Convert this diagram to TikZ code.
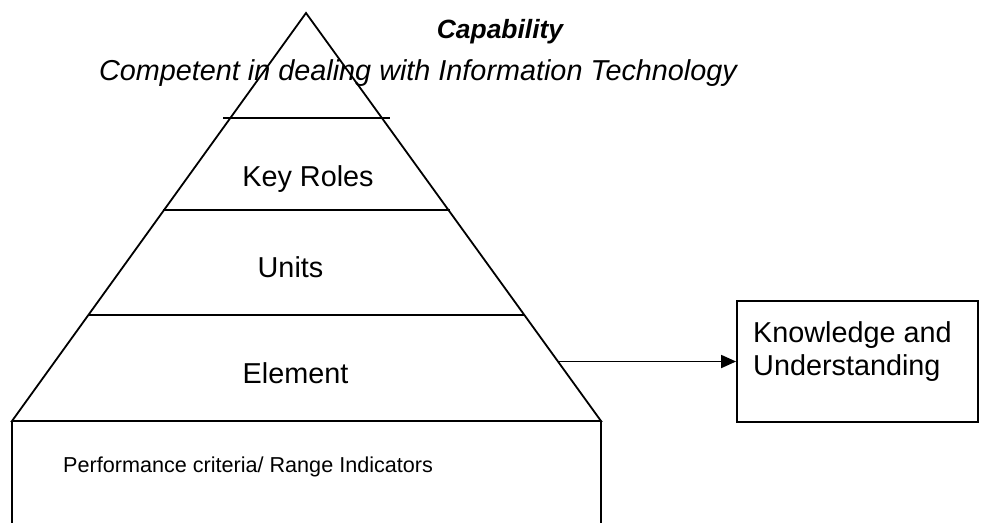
\documentclass[tikz,border=0pt]{standalone}
\usepackage{fontspec}
\setmainfont{Liberation Sans}
\usetikzlibrary{arrows.meta}
\begin{document}
\begin{tikzpicture}[x=1pt,y=-1pt,
  line/.style={draw=black,line width=1.8pt},
  lbl/.style={inner sep=0pt,font=\fontsize{28.8}{33}\selectfont},
  small/.style={inner sep=0pt,font=\fontsize{21.6}{25}\selectfont},
  ttl/.style={inner sep=0pt,font=\fontsize{26.4}{30}\selectfont\bfseries\itshape},
  sub/.style={inner sep=0pt,font=\fontsize{28.8}{33}\selectfont\itshape}]
\useasboundingbox (0,0) rectangle (981,523);
% pyramid coordinates
\coordinate (apex) at (306,13);
\coordinate (bl) at (12,421);
\coordinate (br) at (601,421);
\coordinate (bbl) at (12,523);
\coordinate (bbr) at (601,523);
\coordinate (l1a) at (223,118); \coordinate (l1b) at (390,118);
\coordinate (l2a) at (163,210); \coordinate (l2b) at (450,210);
\coordinate (l3a) at (88,315);  \coordinate (l3b) at (525,315);
\coordinate (astart) at (557,361.5);
% pyramid
\draw[line,line join=miter] (bl) -- (apex) -- (br) -- cycle;
\draw[line] (l1a) -- (l1b);
\draw[line] (l2a) -- (l2b);
\draw[line] (l3a) -- (l3b);
% bottom box
\draw[line] (bl) -- (bbl);
\draw[line] (br) -- (bbr);
% right box
\node[line,minimum width=241pt,minimum height=121pt,inner sep=0pt] (kbox) at (857.5,361.5) {};
\draw[line,-{Triangle[length=15pt,width=13pt]}] (astart) -- (kbox.west);
% texts
\node[ttl,anchor=base] (cap) at (500,38) {Capability};
\node[sub,anchor=base] (comp) at (418,80) {Competent in dealing with Information Technology};
\node[lbl,anchor=base] (kr) at (308,186) {Key Roles};
\node[lbl,anchor=base] (un) at (290.5,277) {Units};
\node[lbl,anchor=base] (el) at (295.5,383) {Element};
\node[small,anchor=base west] (pc) at (63,472) {Performance criteria/ Range Indicators};
\node[lbl,anchor=base west] (k1) at (753,342) {Knowledge and};
\node[lbl,anchor=base west] (k2) at (753,375) {Understanding};
\end{tikzpicture}
\end{document}
